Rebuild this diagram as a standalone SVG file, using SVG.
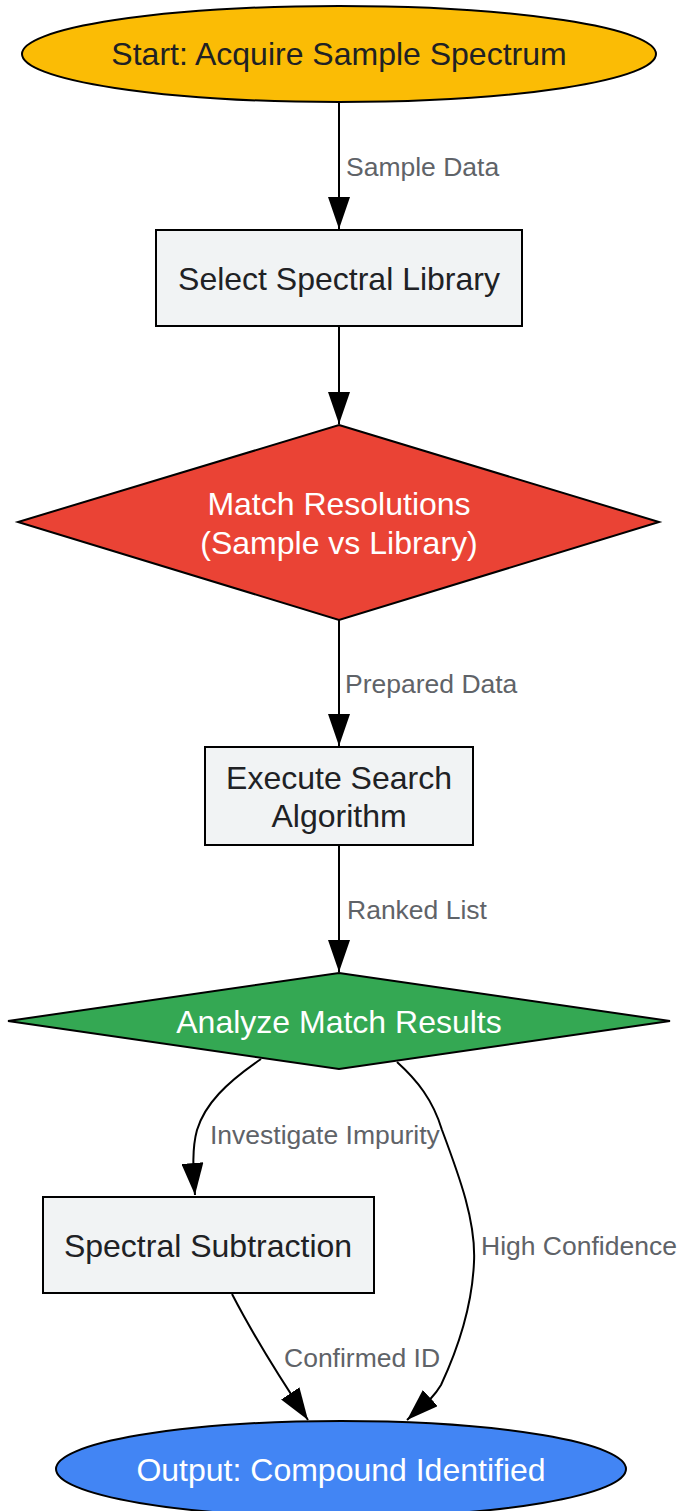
<svg xmlns="http://www.w3.org/2000/svg" width="681" height="1511" viewBox="0 0 681 1511">
<style>
.n{stroke:#000;stroke-width:2}
.t{font-family:"Liberation Sans",Arial,sans-serif;font-size:32px;text-anchor:middle;fill:#202124}
.w{fill:#ffffff}
.l{font-family:"Liberation Sans",Arial,sans-serif;font-size:26.5px;fill:#5f6368}
.e{fill:none;stroke:#000;stroke-width:2}
</style>
<defs>
<marker id="ah" viewBox="0 0 32 22" refX="32" refY="11" markerWidth="32" markerHeight="22" markerUnits="userSpaceOnUse" orient="auto">
<path d="M0,0 L32,11 L0,22 z" fill="#000"/>
</marker>
</defs>
<rect width="681" height="1511" fill="#fff"/>
<g id="connectors">
<path class="e" d="M339,102 L339,229" marker-end="url(#ah)"/>
<text class="l" x="346" y="176">Sample Data</text>
<path class="e" d="M339,326 L339,424" marker-end="url(#ah)"/>
<path class="e" d="M339,620 L339,746" marker-end="url(#ah)"/>
<text class="l" x="345" y="693">Prepared Data</text>
<path class="e" d="M339,845 L339,972" marker-end="url(#ah)"/>
<text class="l" x="347" y="919">Ranked List</text>
<path class="e" d="M261,1059 C226,1083 205,1104 197,1130 C192,1148 193,1170 195,1195" marker-end="url(#ah)"/>
<text class="l" x="210" y="1144">Investigate Impurity</text>
<path class="e" d="M397,1062 C417,1080 433,1100 442,1130 C460,1178 476,1222 474,1262 C472,1310 455,1355 441,1385 C432,1400 423,1405 407,1420" marker-end="url(#ah)"/>
<text class="l" x="481" y="1255">High Confidence</text>
<path class="e" d="M232,1294 C248,1325 268,1360 308,1420" marker-end="url(#ah)"/>
<text class="l" x="284" y="1367">Confirmed ID</text>
</g>
<g id="start">
<ellipse class="n" cx="339" cy="54" rx="317" ry="48" fill="#fbbc05"/>
<text class="t" x="339" y="65">Start: Acquire Sample Spectrum</text>
</g>
<g id="select">
<rect class="n" x="156" y="230" width="366" height="96" fill="#f1f3f4"/>
<text class="t" x="339" y="290">Select Spectral Library</text>
</g>
<g id="match">
<polygon class="n" points="339,425 659,522 339,620 18,522" fill="#ea4335"/>
<text class="t w" x="339" y="515">Match Resolutions</text>
<text class="t w" x="339" y="554">(Sample vs Library)</text>
</g>
<g id="execute">
<rect class="n" x="205" y="747" width="268" height="98" fill="#f1f3f4"/>
<text class="t" x="339" y="789">Execute Search</text>
<text class="t" x="339" y="827">Algorithm</text>
</g>
<g id="analyze">
<polygon class="n" points="339,973 670,1021 339,1069 8,1021" fill="#34a853"/>
<text class="t w" x="339" y="1033">Analyze Match Results</text>
</g>
<g id="subtract">
<rect class="n" x="43" y="1197" width="331" height="96" fill="#f1f3f4"/>
<text class="t" x="208" y="1257">Spectral Subtraction</text>
</g>
<g id="output">
<ellipse class="n" cx="341" cy="1469" rx="285" ry="48" fill="#4285f4"/>
<text class="t w" x="341" y="1481">Output: Compound Identified</text>
</g>
</svg>
